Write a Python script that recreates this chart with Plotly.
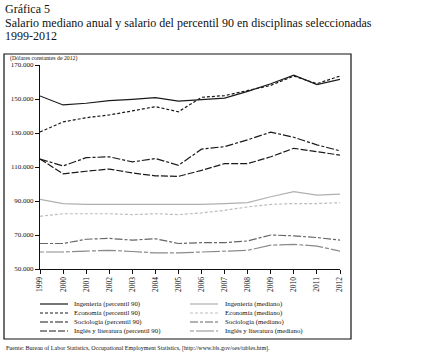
import plotly.graph_objects as go

years = list(range(1999, 2013))

ing_p90 = [151800, 146500, 147500, 149000, 149800, 150800, 148800, 149800, 150500, 154500, 159000, 164000, 158500, 161500]
eco_p90 = [130600, 136500, 139000, 140600, 143000, 145500, 142500, 151000, 152000, 155000, 158000, 163500, 159000, 163500]
soc_p90 = [114700, 110600, 115500, 116000, 113000, 115000, 111000, 120500, 122000, 126000, 130500, 127500, 123000, 119500]
ing_lit_p90 = [114700, 106000, 107500, 108800, 106500, 104800, 104500, 108000, 112000, 112000, 116000, 121000, 119000, 117000]
ing_med = [91000, 88500, 88000, 88000, 87800, 88000, 88000, 88000, 88500, 89000, 92500, 95500, 93500, 94000]
eco_med = [81000, 82500, 82500, 82500, 82000, 82500, 82000, 83000, 84500, 86500, 88000, 88500, 88500, 89000]
soc_med = [65000, 65000, 67500, 68000, 67000, 67800, 65000, 65500, 65500, 66500, 70000, 69500, 68500, 67000]
ing_lit_med = [60000, 60000, 60500, 61000, 60300, 59500, 59500, 60000, 60500, 61000, 64000, 64500, 63500, 60500]

series_names = [
    "Ingeniería (percentil 90)", "Economía (percentil 90)", "Sociología (percentil 90)",
    "Inglés y literatura (percentil 90)", "Ingeniería (mediano)", "Economía (mediano)",
    "Sociología (mediano)", "Inglés y literatura (mediano)",
]
series_values = [ing_p90, eco_p90, soc_p90, ing_lit_p90, ing_med, eco_med, soc_med, ing_lit_med]
styles = [
    ("#1a1a1a", "solid", 1.2),
    ("#1a1a1a", "3px,2px", 1.2),
    ("#1a1a1a", "8px,2px,3px,2px", 1.2),
    ("#1a1a1a", "7px,2px", 1.2),
    ("#b0b0b0", "solid", 1.2),
    ("#bdbdbd", "3px,2px", 1.2),
    ("#666666", "8px,2px,3px,2px", 1.2),
    ("#8a8a8a", "4px,2px,18px,2px", 1.2),
]

title_lines = ["Gráfica 5",
               "Salario mediano anual y salario del percentil 90 en disciplinas seleccionadas",
               "1999-2012"]
subtitle = "(Dólares constantes de 2012)"
source = "Fuente: Bureau of Labor Statistics, Occupational Employment Statistics, [http://www.bls.gov/oes/tables.htm]."

FONT = "Liberation Serif, Times New Roman, serif"
W, H = 422, 359
L, R, T, B = 40, 82, 65, 90
pw, ph = W - L - R, H - T - B

def px(x):
    return (x - L) / pw

def py(y):
    return (H - B - y) / ph

fig = go.Figure()
for name, vals, (c, d, w) in zip(series_names, series_values, styles):
    fig.add_trace(go.Scatter(x=years, y=vals, mode="lines", name=name,
                             line=dict(color=c, dash=d, width=w), showlegend=False))

shapes = [dict(type="rect", xref="paper", yref="paper", x0=px(4), x1=px(351), y0=py(339), y1=py(54),
               line=dict(color="#111", width=1.2))]
annotations = []
for i, t in enumerate(title_lines):
    annotations.append(dict(text=t, xref="paper", yref="paper", x=px(3), y=py(9 + 13.5 * i),
                            xanchor="left", yanchor="middle", showarrow=False,
                            font=dict(family=FONT, size=12, color="#111")))
annotations.append(dict(text=subtitle, xref="paper", yref="paper", x=px(8), y=py(58.5),
                        xanchor="left", yanchor="middle", showarrow=False,
                        font=dict(family=FONT, size=5.8, color="#111")))
annotations.append(dict(text=source, xref="paper", yref="paper", x=px(4), y=py(348),
                        xanchor="left", yanchor="middle", showarrow=False,
                        font=dict(family=FONT, size=6, color="#111")))

rows_y = [304, 313, 322, 331]
cols = [(40, 68, 72), (190, 218, 223)]
for i, (name, (c, d, w)) in enumerate(zip(series_names, styles)):
    col = cols[i // 4]
    yy = rows_y[i % 4]
    shapes.append(dict(type="line", xref="paper", yref="paper", x0=px(col[0]), x1=px(col[1]),
                       y0=py(yy), y1=py(yy), line=dict(color=c, dash=d, width=w)))
    annotations.append(dict(text=name, xref="paper", yref="paper", x=px(col[2]), y=py(yy),
                            xanchor="left", yanchor="middle", showarrow=False,
                            font=dict(family=FONT, size=6.8, color="#111")))

fig.update_layout(
    width=W, height=H, margin=dict(l=L, r=R, t=T, b=B),
    paper_bgcolor="white", plot_bgcolor="white",
    separators=",.",
    font=dict(family=FONT, size=7, color="#111"),
    shapes=shapes, annotations=annotations, showlegend=False,
    xaxis=dict(range=[1999, 2012], tickmode="array", tickvals=years, tickangle=-90,
               showgrid=False, zeroline=False, showline=True, linecolor="#111", linewidth=1.2,
               ticks="outside", ticklen=4, tickcolor="#111", tickfont=dict(size=7.5, family=FONT)),
    yaxis=dict(range=[50000, 170000], dtick=20000, tick0=50000, tickformat=",d",
               showgrid=False, zeroline=False, showline=True, linecolor="#111", linewidth=1.2,
               ticks="outside", ticklen=4, tickcolor="#111", tickfont=dict(size=7, family=FONT)),
)

fig.write_html("out.html", config={"displayModeBar": False},
               post_script="document.body.style.margin='0';")
